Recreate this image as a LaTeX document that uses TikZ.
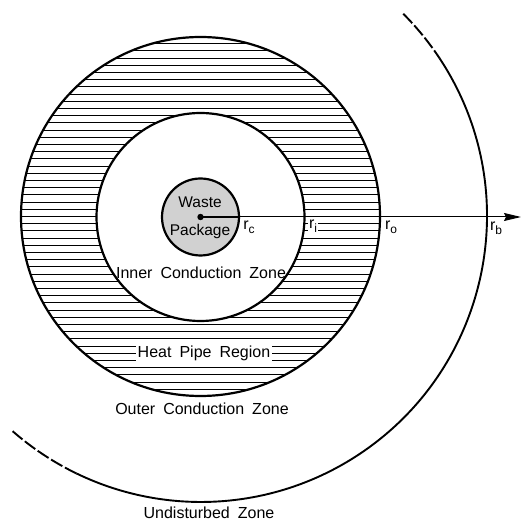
\documentclass[tikz,border=0pt]{standalone}
\usepackage{fontspec}
\setmainfont{Liberation Sans}[WordSpace=1.8]
\usetikzlibrary{arrows.meta}
\tikzset{
  ring/.style={line width=2.2pt},
  hatch/.style={line width=1pt},
  lbl/.style={font=\fontsize{16}{19}\selectfont, inner sep=1pt},
  rlbl/.style={font=\fontsize{16}{19}\selectfont, inner sep=1pt},
}
\newcommand{\rsub}[1]{r\raisebox{-0.45ex}{\fontsize{12}{14}\selectfont #1}}
\begin{document}
\begin{tikzpicture}[x=1pt,y=-1pt]
\useasboundingbox (0,0) rectangle (523,521);
\coordinate (c) at (200.5,217);
% hatching in the heat pipe annulus
\begin{scope}[even odd rule]
  \clip (200.5,216.5) circle (179.5) (c) circle (104);
  \foreach \k in {-25,...,25} {
    \draw[hatch] (15,{216.5+7.2*\k}) -- (390,{216.5+7.2*\k});
  }
\end{scope}
% labels with white background
\node[lbl, fill=white, inner sep=1.5pt] (hp) at (204,353) {Heat Pipe Region};
\node[rlbl, fill=white] (ri) at (313,226) {\rsub{i}};
% circles
\draw[ring] (200.5,216.5) circle (179.5);
\draw[ring] (c) circle (104);
\draw[ring, fill=black!18] (c) circle (38.5);
% boundary arc
\draw[line width=1.9pt] (201,216) ++(-33.5:286) arc[start angle=-33.5, end angle=115.8, radius=286];
\draw[line width=1.9pt, dash pattern=on 13pt off 3pt] (201,216) ++(-45:286) arc[start angle=-45, end angle=-33.5, radius=286];
\draw[line width=1.9pt, dash pattern=on 13pt off 3pt] (201,216) ++(115.8:286) arc[start angle=115.8, end angle=131.2, radius=286];
% radius arrow
\coordinate (tip) at (521,217);
\coordinate (pe) at (239,217);
\draw[line width=1.8pt] (c) -- (pe);
\draw[line width=1pt, -{Stealth[length=17pt,width=8pt,inset=2pt]}] (pe) -- (tip);
\fill (c) circle (3.2);
% texts
\node[font=\fontsize{15.5}{18}\selectfont, inner sep=0pt] (w) at (200,202.5) {Waste};
\node[font=\fontsize{15.5}{18}\selectfont, inner sep=0pt] (p) at (200,231) {Package};
\node[rlbl] (rc) at (249,227) {\rsub{c}};
\node[rlbl] (ro) at (391,227) {\rsub{o}};
\node[rlbl] (rb) at (496,228) {\rsub{b}};
\node[lbl] (icz) at (201,273) {Inner Conduction Zone};
\node[lbl] (ocz) at (202,409) {Outer Conduction Zone};
\node[lbl] (uz) at (209,513) {Undisturbed Zone};
\end{tikzpicture}
\end{document}
